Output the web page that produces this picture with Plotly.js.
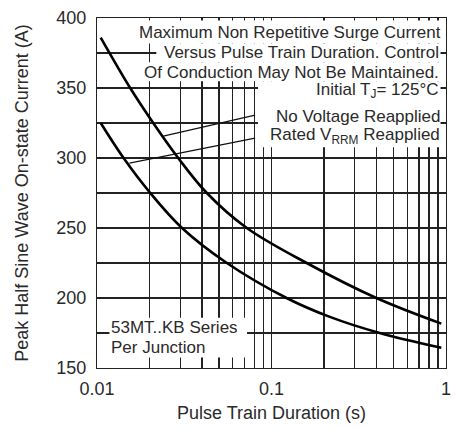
<!DOCTYPE html>
<html>
<head>
<meta charset="utf-8">
<script src="https://cdn.plot.ly/plotly-3.0.1.min.js"></script>
<style>html,body{margin:0;padding:0;background:#fff;}#chart{width:457px;height:429px;}</style>
</head>
<body>
<div id="chart"></div>
<script>
// Series: No Voltage Reapplied (upper curve)
var noVoltX = [0.0105, 0.0155, 0.021, 0.0292, 0.0426, 0.0722, 0.159, 0.399, 0.94];
var noVoltY = [386, 350, 325, 300, 275, 250, 225, 200, 181.7];
// Series: Rated VRRM Reapplied (lower curve)
var ratedX = [0.0105, 0.0142, 0.0202, 0.0307, 0.0555, 0.122, 0.216, 0.417, 0.94];
var ratedY = [325, 300, 275, 250, 225, 200, 186.5, 175, 164.4];
// Axis ticks
var xTickVals = [0.01, 0.1, 1];
var xTickText = ['0.01', '0.1', '1'];
var xMinorVals = [0.02,0.03,0.04,0.05,0.06,0.07,0.08,0.09,0.2,0.3,0.4,0.5,0.6,0.7,0.8,0.9];
var yTickVals = [150, 200, 250, 300, 350, 400];
var yMinorVals = [175, 225, 275, 325, 375];
// Leader line endpoints [x, y] (data units): tail near label, head on curve
var leaderNoVolt = [[0.0805, 330.6], [0.0240, 315.6]];
var leaderRated = [[0.0805, 314.2], [0.01533, 296.4]];

var font = 'Liberation Sans, Arial, Helvetica, sans-serif';
var txtColor = '#2a2a2a';
var gridCol = '#222';

var traces = [
  {x: noVoltX, y: noVoltY, mode: 'lines', line: {color: '#000', width: 2.6, shape: 'spline', smoothing: 1}, hoverinfo: 'skip'},
  {x: ratedX, y: ratedY, mode: 'lines', line: {color: '#000', width: 2.6, shape: 'spline', smoothing: 1}, hoverinfo: 'skip'}
];

function px2x(p){ return (p - 96.5) / 350; }
function py2y(p){ return (368.5 - p) / 351; }
function mask(x0, x1, y0, y1){
  return {type: 'rect', xref: 'paper', yref: 'paper', layer: 'above',
          x0: px2x(x0), x1: px2x(x1), y0: py2y(y1), y1: py2y(y0),
          fillcolor: '#fff', line: {width: 0}};
}
function leader(l){
  return {type: 'line', xref: 'x', yref: 'y', layer: 'above',
          x0: l[0][0], y0: l[0][1], x1: l[1][0], y1: l[1][1],
          line: {color: '#111', width: 1.2}};
}
function label(text, xp, yp, anchor, h){
  var a = {text: text, xref: 'paper', yref: 'paper', x: px2x(xp), y: py2y(yp),
          xanchor: anchor, yanchor: 'middle', showarrow: false,
          font: {family: font, size: 17, color: txtColor}, borderpad: 0};
  if (h) a.height = h;
  return a;
}

var layout = {
  width: 457, height: 429,
  margin: {l: 96.5, r: 10.5, t: 17.5, b: 60.5},
  paper_bgcolor: '#fff', plot_bgcolor: '#fff',
  showlegend: false,
  font: {family: font, size: 17, color: txtColor},
  xaxis: {
    type: 'log', range: [-2, 0],
    tickmode: 'array', tickvals: xTickVals, ticktext: xTickText,
    showgrid: true, gridcolor: gridCol, gridwidth: 1.2,
    minor: {tickmode: 'array', tickvals: xMinorVals, showgrid: true, gridcolor: gridCol, gridwidth: 1.2, ticks: ''},
    showline: true, linecolor: '#222', linewidth: 1.2, mirror: true,
    ticks: '', ticklabelstandoff: 4,
    tickfont: {family: font, size: 18, color: txtColor},
    title: {text: 'Pulse Train Duration (s)', font: {family: font, size: 18, color: txtColor}, standoff: 8},
    zeroline: false, fixedrange: true
  },
  yaxis: {
    range: [150, 400],
    tickmode: 'array', tickvals: yTickVals,
    showgrid: true, gridcolor: gridCol, gridwidth: 1.2,
    minor: {tickmode: 'array', tickvals: yMinorVals, showgrid: true, gridcolor: gridCol, gridwidth: 1.2, ticks: ''},
    showline: true, linecolor: '#222', linewidth: 1.2, mirror: true,
    ticks: '', ticklabelstandoff: 6,
    tickfont: {family: font, size: 18, color: txtColor},
    title: {text: 'Peak Half Sine Wave On-state Current (A)', font: {family: font, size: 18, color: txtColor}, standoff: 22},
    zeroline: false, fixedrange: true
  },
  shapes: [
    mask(132, 441, 20, 43),
    mask(156, 441, 43, 62),
    mask(140, 441, 62, 81),
    mask(258, 441, 81, 147),
    mask(109, 247, 318, 358),
    leader(leaderNoVolt),
    leader(leaderRated)
  ],
  annotations: [
    label('Maximum Non Repetitive Surge Current', 442, 32, 'right', 19),
    label('Versus Pulse Train Duration. Control', 440, 52, 'right', 19),
    label('Of Conduction May Not Be Maintained.', 440, 72, 'right', 18),
    label('Initial T<sub>J</sub>= 125°C', 440, 90.5, 'right', 19),
    label('No Voltage Reapplied', 441, 116, 'right', 19),
    label('Rated V<sub>RRM</sub> Reapplied', 441, 136, 'right', 20),
    label('53MT..KB Series', 110, 328, 'left', 19),
    label('Per Junction', 110, 348, 'left', 19)
  ]
};

Plotly.newPlot('chart', traces, layout, {staticPlot: true, displayModeBar: false});
</script>
</body>
</html>
